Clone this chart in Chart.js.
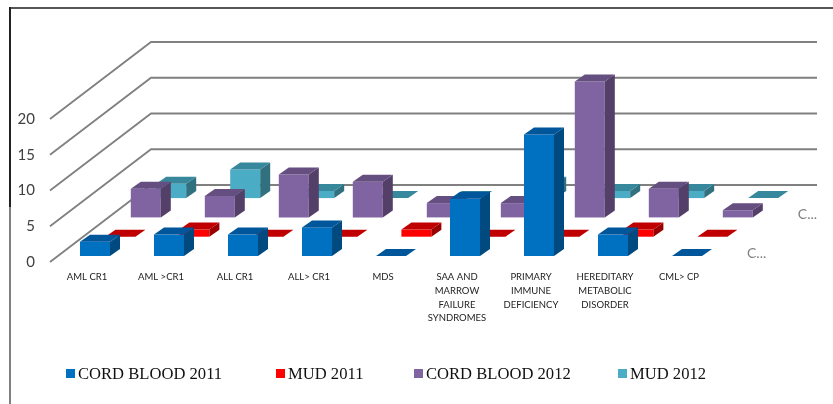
<!DOCTYPE html>
<html lang="en">
<head>
  <meta charset="UTF-8">
  <title>Transplants by disease</title>
  <script src="https://cdn.jsdelivr.net/npm/chart.js@4/dist/chart.umd.min.js"></script>
  <style>
    html, body { margin: 0; padding: 0; background: #fff; }
    #wrap { position: relative; width: 833px; height: 404px; }
  </style>
</head>
<body>
  <div id="wrap"><canvas id="myChart" width="833" height="404"></canvas></div>
  <script>
    var categories = [
      "AML CR1",
      "AML >CR1",
      "ALL CR1",
      "ALL> CR1",
      "MDS",
      ["SAA AND", "MARROW", "FAILURE", "SYNDROMES"],
      ["PRIMARY", "IMMUNE", "DEFICIENCY"],
      ["HEREDITARY", "METABOLIC", "DISORDER"],
      "CML> CP"
    ];
    var cordBlood2011 = [2, 3, 3, 4, 0, 8, 17, 3, 0];
    var mud2011 = [0, 1, 0, 0, 1, 0, 0, 1, 0];
    var cordBlood2012 = [4, 3, 6, 5, 2, 2, 19, 4, 1];
    var mud2012 = [2, 4, 1, 0, 0, 2, 1, 1, 0];
    var seriesNames = ["CORD BLOOD 2011", "MUD 2011", "CORD BLOOD 2012", "MUD 2012"];
    var yTicks = [0, 5, 10, 15, 20];
    var depthLabels = ["C...", "", "C...", ""];

    // face colours per series
    var frontColors = ["#0070c0", "#ff0000", "#8064a2", "#4bacc6"];
    var topColors = ["#00569a", "#c00000", "#654f80", "#37889d"];
    var sideColors = ["#004a80", "#990000", "#533f68", "#31707f"];

    // 3d layout
    var wallDx = 101, wallDy = 77;
    var floorDx = 8, floorDy = 6;
    var rowDx = 25.4, rowDy = 19.3;
    var barDx = 10, barDy = 7;
    var legendLeft = [66, 276, 414, 618];

    function poly(ctx, pts, color) {
      ctx.fillStyle = color;
      ctx.beginPath();
      ctx.moveTo(pts[0][0], pts[0][1]);
      for (var i = 1; i < pts.length; i++) ctx.lineTo(pts[i][0], pts[i][1]);
      ctx.closePath();
      ctx.fill();
    }

    var bars3d = {
      id: "bars3d",
      beforeDraw: function(chart) {
        var ctx = chart.ctx;
        // page frame
        ctx.fillStyle = "#555555";
        ctx.fillRect(9, 7, 824, 2);
        ctx.fillStyle = "#222222";
        ctx.fillRect(9, 7, 2, 200);
        ctx.fillStyle = "#808080";
        ctx.fillRect(9, 207, 2, 197);
      },
      beforeDatasetsDraw: function(chart) {
        var ctx = chart.ctx, area = chart.chartArea, y = chart.scales.y;
        // floor and wall grid lines
        ctx.strokeStyle = "#808080";
        ctx.lineWidth = 1.8;
        yTicks.forEach(function(t) {
          var py = y.getPixelForValue(t);
          ctx.beginPath();
          ctx.moveTo(area.left, py);
          ctx.lineTo(area.left + wallDx, py - wallDy);
          ctx.lineTo(area.right + wallDx, py - wallDy);
          ctx.stroke();
        });
        // back row first so the front rows overlap it
        for (var d = chart.data.datasets.length - 1; d >= 0; d--) {
          var ox = floorDx + rowDx * d;
          var oy = floorDy + rowDy * d;
          chart.getDatasetMeta(d).data.forEach(function(bar) {
            var l = bar.x - bar.width / 2 + ox;
            var r = bar.x + bar.width / 2 + ox;
            var t = bar.y - oy;
            var b = bar.base - oy;
            if (b > t) {
              poly(ctx, [[l, b], [r, b], [r, t], [l, t]], frontColors[d]);
              poly(ctx, [[r, b], [r + barDx, b - barDy], [r + barDx, t - barDy], [r, t]], sideColors[d]);
            }
            poly(ctx, [[l, t], [r, t], [r + barDx, t - barDy], [l + barDx, t - barDy]], topColors[d]);
          });
          // series axis label
          if (depthLabels[d]) {
            ctx.fillStyle = "#7f7f7f";
            ctx.font = "14px Lato";
            ctx.textAlign = "left";
            ctx.textBaseline = "middle";
            ctx.fillText(depthLabels[d], area.right + ox + 23, y.getPixelForValue(0) - oy - 3);
          }
        }
      },
      beforeDatasetDraw: function() {
        return false;
      },
      afterDraw: function(chart) {
        var ctx = chart.ctx;
        ctx.font = "16.6px 'Liberation Serif'";
        ctx.textAlign = "left";
        ctx.textBaseline = "middle";
        chart.data.datasets.forEach(function(ds, i) {
          ctx.fillStyle = frontColors[i];
          ctx.fillRect(legendLeft[i], 369, 9, 9);
          ctx.fillStyle = "#111111";
          ctx.fillText(ds.label, legendLeft[i] + 12, 375);
        });
      }
    };

    function makeDataset(i, values) {
      return { label: seriesNames[i], data: values, backgroundColor: frontColors[i], barThickness: 30, grouped: false };
    }

    var ctx = document.getElementById("myChart").getContext("2d");
    var chart = new Chart(ctx, {
      type: "bar",
      data: {
        labels: categories,
        datasets: [
          makeDataset(0, cordBlood2011),
          makeDataset(1, mud2011),
          makeDataset(2, cordBlood2012),
          makeDataset(3, mud2012)
        ]
      },
      plugins: [bars3d],
      options: {
        responsive: false,
        animation: false,
        layout: { padding: { top: 119, right: 117, left: 0, bottom: 0 } },
        plugins: { legend: { display: false }, title: { display: false }, tooltip: { enabled: false } },
        scales: {
          x: {
            grid: { display: false, drawTicks: false },
            border: { display: false },
            afterFit: function(scale) { scale.height = 142; },
            ticks: {
              autoSkip: false,
              maxRotation: 0,
              padding: 8,
              color: "#222222",
              font: { family: "Lato", size: 9.5, lineHeight: 1.45 }
            }
          },
          y: {
            min: 0,
            max: 20,
            grid: { display: false, drawTicks: false },
            border: { display: false },
            afterFit: function(scale) { scale.width = 50; },
            ticks: {
              stepSize: 5,
              padding: 15,
              color: "#404040",
              font: { family: "Lato", size: 15 }
            }
          }
        }
      }
    });
  </script>
</body>
</html>
